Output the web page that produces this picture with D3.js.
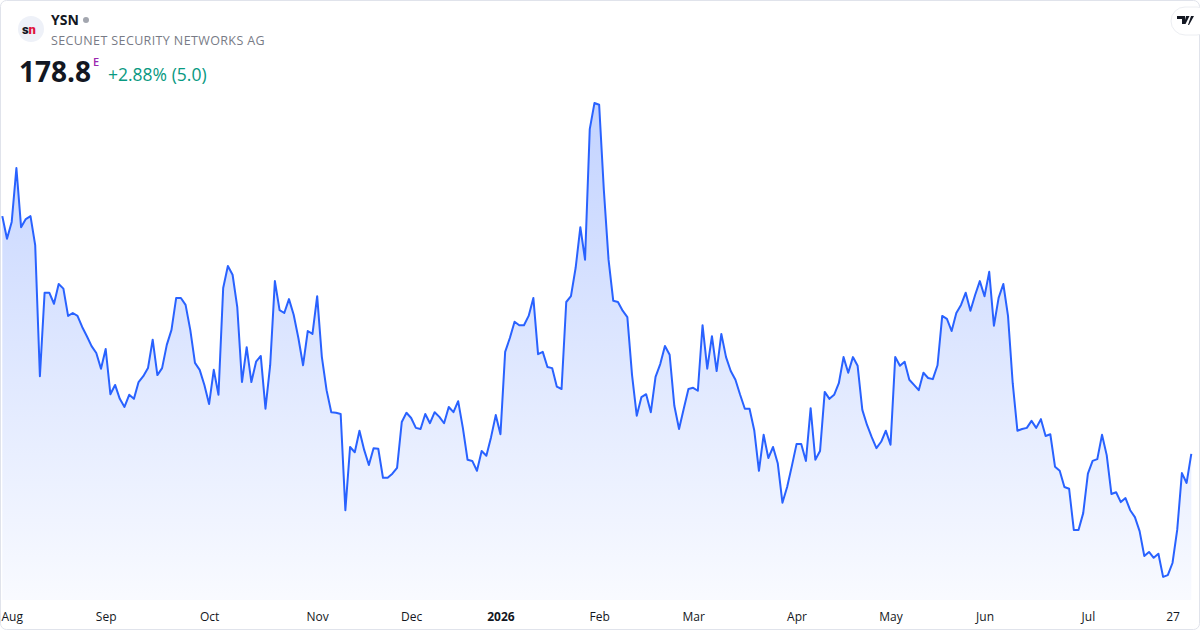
<!DOCTYPE html>
<html>
<head>
<meta charset="utf-8">
<script src="https://cdn.jsdelivr.net/npm/d3@7"></script>
<style>
  html, body { margin: 0; padding: 0; background: #fff; }
  svg { display: block; font-family: "Open Sans", Roboto, sans-serif; }
</style>
</head>
<body>
<div id="chart"></div>
<script>
// Closing prices, one per trading day (31 Jul 2025 .. 31 Jul 2026)
const prices = [
  219.8, 215.9, 218.8, 228.1, 217.9, 219.3, 219.8, 214.8, 192.2, 206.6,
  206.6, 204.7, 208.1, 207.3, 202.6, 203.1, 202.6, 200.7, 199.1, 197.4,
  196.2, 193.5, 196.9, 189.1, 190.7, 188.3, 186.9, 189.0, 188.3, 191.2,
  192.2, 193.6, 198.5, 192.4, 193.6, 197.6, 200.2, 205.7, 205.7, 204.5,
  200.2, 194.5, 193.3, 190.7, 187.4, 193.3, 189.0, 207.4, 211.2, 209.7,
  204.1, 191.2, 197.2, 191.2, 194.7, 195.7, 186.6, 194.1, 208.6, 203.6,
  203.1, 205.5, 202.8, 198.8, 194.1, 200.0, 199.5, 206.0, 195.5, 189.8,
  186.0, 185.9, 185.7, 169.1, 180.0, 179.1, 182.8, 179.5, 176.9, 179.8,
  179.7, 174.7, 174.7, 175.4, 176.4, 184.3, 185.9, 185.0, 183.3, 183.1,
  185.7, 184.1, 186.0, 185.2, 184.1, 186.9, 186.0, 187.9, 183.3, 177.8,
  177.6, 175.9, 179.3, 178.5, 181.7, 185.5, 182.2, 196.4, 198.8, 201.6,
  201.0, 201.0, 202.6, 205.7, 196.0, 196.4, 193.8, 193.6, 190.4, 190.0,
  205.0, 206.0, 210.9, 217.9, 212.3, 234.8, 239.3, 239.0, 224.3, 212.3,
  205.2, 205.0, 203.5, 202.4, 192.4, 185.4, 188.6, 189.1, 186.0, 192.1,
  194.3, 197.4, 195.9, 187.1, 183.1, 186.6, 190.0, 190.2, 189.7, 201.0,
  193.5, 199.1, 193.1, 199.5, 195.5, 193.1, 191.6, 189.0, 186.6, 186.6,
  182.9, 175.9, 182.1, 178.1, 180.0, 177.2, 170.4, 173.1, 176.7, 180.5,
  180.5, 177.6, 186.7, 177.8, 179.3, 189.5, 188.3, 189.0, 191.0, 195.5,
  192.8, 195.5, 194.0, 186.4, 183.8, 181.7, 179.8, 180.9, 182.8, 180.4,
  195.5, 194.0, 194.7, 191.6, 190.7, 189.8, 192.8, 191.9, 191.7, 194.1,
  202.6, 202.1, 200.0, 203.1, 204.5, 206.6, 203.5, 206.2, 208.6, 206.0,
  210.2, 200.9, 205.7, 208.1, 202.6, 191.0, 182.8, 183.1, 183.3, 184.5,
  183.3, 184.8, 181.9, 182.2, 176.6, 175.9, 173.1, 172.8, 165.7, 165.7,
  168.6, 175.4, 177.6, 177.9, 182.1, 178.6, 171.9, 172.2, 170.5, 171.2,
  169.1, 167.9, 165.5, 161.2, 161.9, 160.9, 161.6, 157.6, 157.9, 160.0,
  165.7, 175.5, 173.8, 178.8
];

// Axis labels and the trading-day index where each falls
const tickLabels = ["Aug", "Sep", "Oct", "Nov", "Dec", "2026", "Feb", "Mar", "Apr", "May", "Jun", "Jul", "27"];
const tickIndex  = [1, 22, 44, 67, 87, 106, 127, 147, 169, 189, 209, 231, 249];

const symbol = "YSN";
const company = "SECUNET SECURITY NETWORKS AG";
const lastPrice = "178.8";
const change = "+2.88% (5.0)";

const W = 1200, H = 630;
const plotBottom = 600;

const svg = d3.select("#chart").append("svg")
    .attr("width", W)
    .attr("height", H);

// card outline
svg.append("rect")
    .attr("x", 0.5).attr("y", 0.5)
    .attr("width", W - 1).attr("height", H - 1)
    .attr("rx", 6)
    .attr("fill", "#fff")
    .attr("stroke", "#e0e3eb");

const x = d3.scaleLinear()
    .domain([0, prices.length - 1])
    .range([2.3, 1191.3]);

const y = d3.scaleLinear()
    .domain([150, 245])
    .range([621, 70]);

const defs = svg.append("defs");
const grad = defs.append("linearGradient")
    .attr("id", "fillGrad")
    .attr("gradientUnits", "userSpaceOnUse")
    .attr("x1", 0).attr("x2", 0)
    .attr("y1", y(d3.max(prices))).attr("y2", plotBottom);
grad.append("stop").attr("offset", "0%").attr("stop-color", "#2962ff").attr("stop-opacity", 0.28);
grad.append("stop").attr("offset", "100%").attr("stop-color", "#2962ff").attr("stop-opacity", 0.03);

// Area
svg.append("path")
    .datum(prices)
    .attr("fill", "url(#fillGrad)")
    .attr("d", d3.area()
        .x((d, i) => x(i))
        .y0(plotBottom)
        .y1(d => y(d)));

// Line
svg.append("path")
    .datum(prices)
    .attr("fill", "none")
    .attr("stroke", "#2962ff")
    .attr("stroke-width", 2)
    .attr("stroke-linejoin", "round")
    .attr("d", d3.line()
        .x((d, i) => x(i))
        .y(d => y(d)));

// X axis
const axis = svg.append("g")
    .attr("transform", `translate(0, ${plotBottom})`)
    .call(d3.axisBottom(x)
        .tickValues(tickIndex)
        .tickFormat((d, i) => tickLabels[i])
        .tickSize(0)
        .tickPadding(12));
axis.select(".domain").remove();
axis.selectAll("text")
    .attr("fill", "#131722")
    .style("font-size", "12px")
    .style("font-family", "'Open Sans', sans-serif")
    .style("font-weight", (d, i) => tickLabels[i] === "2026" ? "700" : "400");
// keep the first label inside the card
axis.selectAll("text").filter((d, i) => i === 0)
    .attr("text-anchor", "start")
    .attr("dx", -6);

// Header
const head = svg.append("g");
head.append("circle")
    .attr("cx", 31).attr("cy", 29).attr("r", 13)
    .attr("fill", "#eef1f8");
const logo = head.append("text")
    .attr("x", 22).attr("y", 34)
    .attr("font-size", 13).attr("font-weight", 900)
    .attr("font-family", "Roboto, sans-serif")
    .attr("letter-spacing", -0.3);
logo.append("tspan").attr("fill", "#131722").text("s");
logo.append("tspan").attr("fill", "#e0143c").text("n");

head.append("text")
    .attr("x", 51).attr("y", 25)
    .attr("font-size", 14).attr("font-weight", 700)
    .attr("font-family", "'Open Sans', sans-serif")
    .attr("fill", "#131722")
    .text(symbol);
head.append("circle")
    .attr("cx", 86).attr("cy", 20).attr("r", 3)
    .attr("fill", "#a3a6af");
head.append("text")
    .attr("x", 51).attr("y", 45)
    .attr("font-size", 12.5)
    .attr("font-family", "'Open Sans', sans-serif")
    .attr("letter-spacing", 0.38)
    .attr("fill", "#787b86")
    .text(company);

head.append("text")
    .attr("x", 19).attr("y", 82)
    .attr("font-size", 28).attr("font-weight", 700)
    .attr("font-family", "'Open Sans', sans-serif")
    .attr("fill", "#131722")
    .text(lastPrice);
head.append("text")
    .attr("x", 93).attr("y", 66)
    .attr("font-size", 11).attr("font-weight", 600)
    .attr("font-family", "'Open Sans', sans-serif")
    .attr("fill", "#9c27b0")
    .text("E");
head.append("text")
    .attr("x", 108).attr("y", 81)
    .attr("font-size", 17.5)
    .attr("font-family", "'Open Sans', sans-serif")
    .attr("fill", "#089981")
    .text(change);

// TradingView badge
const badge = svg.append("g");
badge.append("rect")
    .attr("x", 1171).attr("y", 7)
    .attr("width", 40).attr("height", 28)
    .attr("rx", 14)
    .attr("fill", "#fff")
    .attr("stroke", "#eceef2");
badge.append("path")
    .attr("d", "M1177 16h8v8h-3v-5h-5z M1186 16h3.5l-4 8h-1.5z M1191 16h3l-5 9h-1z")
    .attr("fill", "#131722");
</script>
</body>
</html>
